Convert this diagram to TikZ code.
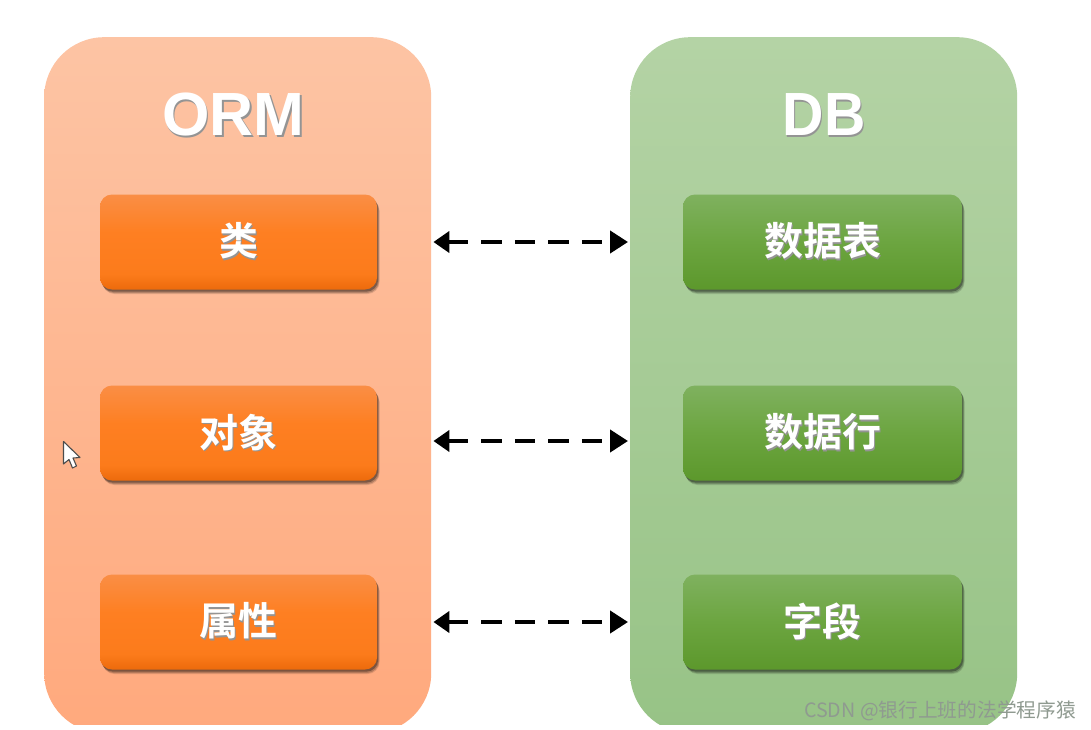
\documentclass[tikz,border=0pt]{standalone}
\usepackage{fontspec}
\setmainfont{Liberation Sans}
\newfontfamily\cjkbold[BoldFont={Noto Sans CJK SC Bold}]{Noto Sans CJK SC}
\newfontfamily\cjkmark{Noto Sans CJK SC}
\usetikzlibrary{arrows.meta,shadows}
\newcommand{\softtext}[1]{\rlap{\kern1.4pt\raisebox{-1.8pt}{\textcolor{black!42}{#1}}}\textcolor{white}{#1}}
\definecolor{ormTop}{HTML}{FDC4A4}
\definecolor{ormBot}{HTML}{FFA97D}
\definecolor{dbTop}{HTML}{B4D3A5}
\definecolor{dbBot}{HTML}{97C386}
\definecolor{boxOTop}{HTML}{FA8E45}
\definecolor{boxOUp}{HTML}{FE7F22}
\definecolor{boxOLow}{HTML}{FC7B1B}
\definecolor{boxOBot}{HTML}{EC6A0B}
\definecolor{boxDTop}{HTML}{7FB15F}
\definecolor{boxDMid}{HTML}{6CA540}
\definecolor{boxDBot}{HTML}{5C982C}
\definecolor{stampGray}{HTML}{8F9A90}
\pgfdeclareverticalshading{orangebar}{100bp}{color(0bp)=(boxOBot); color(25bp)=(boxOBot); color(33bp)=(boxOLow); color(55bp)=(boxOUp); color(75bp)=(boxOTop); color(100bp)=(boxOTop)}
\pgfdeclareverticalshading{greenbar}{100bp}{color(0bp)=(boxDBot); color(25bp)=(boxDBot); color(50bp)=(boxDMid); color(75bp)=(boxDTop); color(100bp)=(boxDTop)}
\tikzset{
  x=1pt,y=-1pt,
  panel/.style={rectangle,rounded corners=60pt,inner sep=0pt,minimum width=387pt,minimum height=696pt,draw=none,anchor=north west},
  ormpanel/.style={panel,top color=ormTop,bottom color=ormBot},
  dbpanel/.style={panel,top color=dbTop,bottom color=dbBot},
  itembox/.style={rectangle,rounded corners=12pt,inner sep=0pt,minimum height=95pt,draw=none,font=\fontsize{39pt}{39pt}\selectfont\cjkbold\bfseries,
    drop shadow={shadow xshift=2.5pt,shadow yshift=-4.5pt,opacity=.12,fill=black},
    drop shadow={shadow xshift=2pt,shadow yshift=-3.5pt,opacity=.2,fill=black},
    drop shadow={shadow xshift=1.2pt,shadow yshift=-2.2pt,opacity=.3,fill=black}},
  ormbox/.style={itembox,minimum width=277pt,shading=orangebar},
  dbbox/.style={itembox,minimum width=279pt,shading=greenbar},
  headline/.style={font=\fontsize{61pt}{61pt}\selectfont\bfseries,inner sep=0pt},
  linkarrow/.style={draw=black,line width=4.2pt,dash pattern=on 20.5pt off 13pt,dash phase=0.5pt,
    {Triangle[length=16pt,width=21pt]Rectangle[length=16pt,width=4.2pt]}-{Triangle[length=18pt,width=22pt]},shorten <=2pt,shorten >=2pt},
  stamp/.style={font=\fontsize{19.7pt}{20pt}\selectfont\cjkmark,text=stampGray,inner sep=0pt,anchor=east},
  pointer/.style={fill=white,draw=black!70,line width=1.1pt,line join=round}
}
\begin{document}
\begin{tikzpicture}
\useasboundingbox (0,0) rectangle (1091,730);
\fill[white] (0,0) rectangle (1091,730);
\begin{scope}
  \clip (0,0) rectangle (1091,724);
  \node[ormpanel] (ormPanel) at (44,37) {};
  \node[dbpanel] (dbPanel) at (630,37) {};
\end{scope}
\node[headline] (ormTitle) at (233.5,115.5) {\softtext{ORM}};
\node[headline] (dbTitle) at (824,115.5) {\scalebox{.94}[1]{\softtext{DB}}};
\node[ormbox] (ormA) at (238.5,242) {\softtext{类}};
\node[ormbox] (ormB) at (238.5,433) {\softtext{对象}};
\node[ormbox] (ormC) at (238.5,622) {\softtext{属性}};
\node[dbbox] (dbA) at (822.5,242) {\softtext{数据表}};
\node[dbbox] (dbB) at (822.5,433) {\softtext{数据行}};
\node[dbbox] (dbC) at (822.5,622) {\softtext{字段}};
\draw[linkarrow] (ormA.east -| ormPanel.east) -- (dbA.west -| dbPanel.west);
\draw[linkarrow] ([yshift=-8pt]ormB.east -| ormPanel.east) -- ([yshift=-8pt]dbB.west -| dbPanel.west);
\draw[linkarrow] (ormC.east -| ormPanel.east) -- (dbC.west -| dbPanel.west);
\draw[pointer] (63.5,441.5) -- (63.5,464) -- (69,459.5) -- (72.5,468) -- (76.5,466) -- (73,458) -- (80,457.5) -- cycle;
\node[stamp] (mark) at (1076,711) {CSDN @银行上班的法学程序猿};
\end{tikzpicture}
\end{document}
